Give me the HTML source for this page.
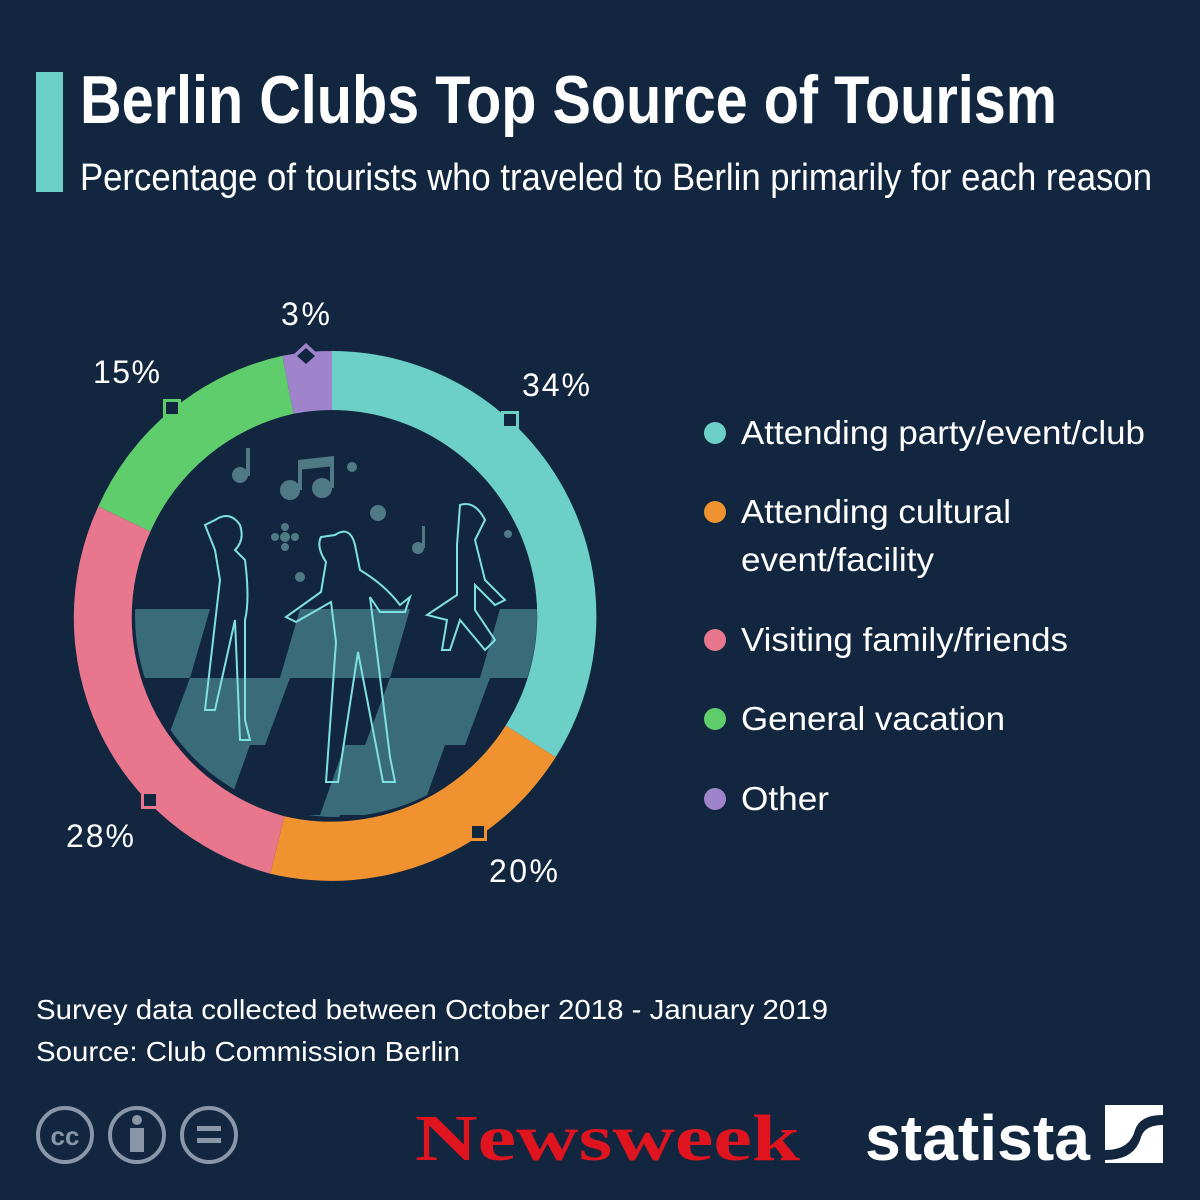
<!DOCTYPE html>
<html><head><meta charset="utf-8"><style>
html,body{margin:0;padding:0;background:#12263f;}
svg{display:block}
</style></head><body>
<svg width="1200" height="1200" viewBox="0 0 1200 1200" xmlns="http://www.w3.org/2000/svg">
<rect width="1200" height="1200" fill="#12263f"/>
<rect x="36" y="72" width="27" height="120" fill="#6cd0c8"/>
<text x="80" y="123" font-family="Liberation Sans Narrow, Liberation Sans, sans-serif" font-weight="bold" font-size="68" fill="#fff" textLength="977" lengthAdjust="spacingAndGlyphs">Berlin Clubs Top Source of Tourism</text>
<text x="80" y="190" font-family="Liberation Sans Narrow, Liberation Sans, sans-serif" font-size="38" fill="#fff" textLength="1072" lengthAdjust="spacingAndGlyphs">Percentage of tourists who traveled to Berlin primarily for each reason</text>
<defs><clipPath id="ic"><circle cx="336" cy="616" r="201"/></clipPath></defs>
<g clip-path="url(#ic)" fill="#3a6b78">
 <polygon points="120,609 210,609 190,678 100,678"/>
 <polygon points="300,609 410,609 390,678 280,678"/>
 <polygon points="500,609 610,609 590,678 480,678"/>
 <polygon points="190,678 290,678 265,745 165,745"/>
 <polygon points="390,678 490,678 465,745 365,745"/>
 <polygon points="590,678 690,678 665,745 565,745"/>
 <polygon points="165,745 250,745 225,815 140,815"/>
 <polygon points="345,745 445,745 420,815 320,815"/>
 <polygon points="540,745 640,745 615,815 515,815"/>
 <polygon points="250,815 340,815 320,880 230,880"/>
 <polygon points="420,815 515,815 495,880 400,880"/>
 <polygon points="60,678 120,678 100,745 40,745"/>
 <polygon points="40,815 140,815 120,880 20,880"/>
</g>
<g fill="#4f7a85">
 <circle cx="240" cy="475" r="8"/><rect x="246" y="448" width="4" height="28"/>
 <circle cx="290" cy="490" r="10"/><circle cx="322" cy="488" r="10"/><rect x="298" y="462" width="4" height="28"/><rect x="330" y="458" width="4" height="30"/><polygon points="298,460 334,456 334,466 298,470"/>
 <circle cx="352" cy="467" r="5"/><circle cx="378" cy="513" r="8"/><circle cx="300" cy="577" r="5"/>
 <circle cx="285" cy="537" r="5"/><circle cx="275" cy="537" r="4"/><circle cx="295" cy="537" r="4"/><circle cx="285" cy="527" r="4"/><circle cx="285" cy="547" r="4"/>
 <circle cx="418" cy="548" r="6"/><rect x="422" y="526" width="3" height="22"/><circle cx="508" cy="534" r="4"/>
</g>
<g fill="none" stroke="#7ee0e0" stroke-width="2">
 <path d="M215,520 q15,-10 25,5 q5,15 -5,25 l10,10 q5,40 0,60 l0,100 l5,20 l-10,0 l-5,-120 l-20,90 l-10,0 l15,-130 l-5,-30 l-10,-25 z"/>
 <path d="M335,535 q15,-10 20,10 l5,25 q25,15 40,35 l10,-8 l-5,15 l-25,0 l-10,-15 l5,40 l15,120 l5,25 l-12,0 l-25,-130 l-20,130 l-12,0 l10,-140 l-5,-40 l-35,20 l-10,-5 l35,-25 l5,-30 q-10,-15 -5,-25 z"/>
 <path d="M460,505 q15,-5 25,15 l-10,20 l10,40 l20,20 l-10,5 l-20,-20 l0,25 l20,30 l-10,10 l-25,-30 l-10,30 l-8,0 l5,-30 l-20,-5 l30,-20 l0,-50 z"/>
</g>
<path d="M332,351 A265,265 0 0 1 555.7,757.1 L505.7,725.5 A206,206 0 0 0 332,410 Z" fill="#6cd0c8"/>
<path d="M555.7,757.1 A265,265 0 0 1 270.3,873.7 L284.3,816.2 A206,206 0 0 0 505.7,725.5 Z" fill="#ef922f"/>
<path d="M270.3,873.7 A265,265 0 0 1 98.3,506.4 L150.4,531.6 A206,206 0 0 0 284.3,816.2 Z" fill="#e8768d"/>
<path d="M98.3,506.4 A265,265 0 0 1 282.4,355.7 L293.4,413.8 A206,206 0 0 0 150.4,531.6 Z" fill="#5fcd6c"/>
<path d="M282.4,355.7 A265,265 0 0 1 332,351 L332,410 A206,206 0 0 0 293.4,413.8 Z" fill="#9f84cc"/>
<g fill="#12263f">
 <rect x="501" y="411" width="18" height="18" fill="#6cd0c8"/><rect x="504" y="414" width="12" height="12"/>
 <rect x="469" y="823" width="18" height="18" fill="#ef922f"/><rect x="472" y="826" width="12" height="12"/>
 <rect x="141" y="791" width="18" height="18" fill="#e8768d"/><rect x="144" y="794" width="12" height="12"/>
 <rect x="163" y="399" width="18" height="18" fill="#5fcd6c"/><rect x="166" y="402" width="12" height="12"/>
 <polygon points="306,343 320,356 306,369 292,356" fill="#9f84cc"/><polygon points="306,348 315,356 306,364 297,356"/>
</g>
<g font-family="Liberation Sans, sans-serif" font-size="32" fill="#fff" lengthAdjust="spacingAndGlyphs">
 <text x="281" y="325" textLength="49">3%</text><text x="522" y="396" textLength="68">34%</text><text x="93" y="383" textLength="67">15%</text>
 <text x="66" y="847" textLength="68">28%</text><text x="489" y="882" textLength="69">20%</text>
</g>
<g font-family="Liberation Sans, sans-serif" font-size="33" fill="#fff">
 <circle cx="715" cy="433" r="11" fill="#6cd0c8"/><text x="741" y="444" textLength="404" lengthAdjust="spacingAndGlyphs">Attending party/event/club</text>
 <circle cx="715" cy="512" r="11" fill="#ef922f"/><text x="741" y="523" textLength="270" lengthAdjust="spacingAndGlyphs">Attending cultural</text><text x="741" y="571" textLength="193" lengthAdjust="spacingAndGlyphs">event/facility</text>
 <circle cx="715" cy="640" r="11" fill="#e8768d"/><text x="741" y="651" textLength="327" lengthAdjust="spacingAndGlyphs">Visiting family/friends</text>
 <circle cx="715" cy="719" r="11" fill="#5fcd6c"/><text x="741" y="730" textLength="264" lengthAdjust="spacingAndGlyphs">General vacation</text>
 <circle cx="715" cy="799" r="11" fill="#9f84cc"/><text x="741" y="810" textLength="88" lengthAdjust="spacingAndGlyphs">Other</text>
</g>
<g font-family="Liberation Sans, sans-serif" font-size="28" fill="#fff">
 <text x="36" y="1019" textLength="792" lengthAdjust="spacingAndGlyphs">Survey data collected between October 2018 - January 2019</text>
 <text x="36" y="1061" textLength="424" lengthAdjust="spacingAndGlyphs">Source: Club Commission Berlin</text>
</g>
<g fill="none" stroke="#8a97a8" stroke-width="4">
 <circle cx="65" cy="1135" r="27"/><circle cx="137" cy="1135" r="27"/><circle cx="209" cy="1135" r="27"/>
</g>
<text x="65" y="1145" text-anchor="middle" font-family="Liberation Sans, sans-serif" font-weight="bold" font-size="26" fill="#8a97a8">cc</text>
<g fill="#8a97a8"><circle cx="137" cy="1120" r="5"/><rect x="130" y="1128" width="14" height="24"/><rect x="197" y="1126" width="24" height="5"/><rect x="197" y="1138" width="24" height="5"/></g>
<text x="415" y="1160" font-family="Liberation Serif, serif" font-weight="bold" font-size="66" fill="#e0141e" textLength="385" lengthAdjust="spacingAndGlyphs">Newsweek</text>
<text x="865" y="1160" font-family="Liberation Sans Narrow, Liberation Sans, sans-serif" font-weight="bold" font-size="64" fill="#fff" textLength="225" lengthAdjust="spacingAndGlyphs">statista</text>
<rect x="1105" y="1105" width="58" height="58" fill="#fff"/>
<path d="M1105,1150 q25,0 30,-20 q5,-15 28,-15 l0,10 q-18,0 -22,12 q-6,23 -36,23 z" fill="#12263f"/>
</svg>
</body></html>
